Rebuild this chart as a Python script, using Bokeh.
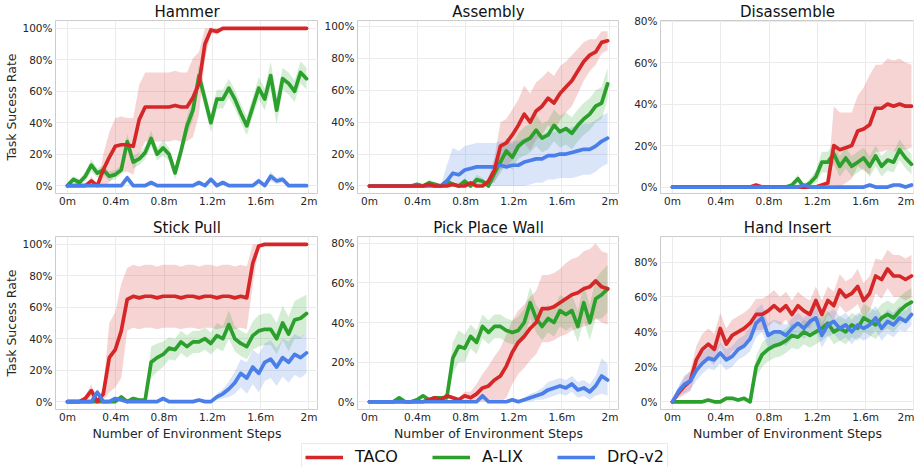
from bokeh.plotting import figure
from bokeh.layouts import column, row
from bokeh.models import FixedTicker, CustomJSTickFormatter, Range1d, Legend, LegendItem
from bokeh.embed import file_html
from bokeh.resources import INLINE

# ---------------- data (environment steps in millions, success rate in %) ----------------
steps_m = [0, 0.0495, 0.099, 0.1485, 0.198, 0.2475, 0.297, 0.3465, 0.396, 0.4455,
           0.495, 0.5445, 0.594, 0.6435, 0.693, 0.7425, 0.792, 0.8415, 0.891, 0.9405,
           0.99, 1.0395, 1.089, 1.1385, 1.188, 1.2375, 1.287, 1.3365, 1.386, 1.4355,
           1.485, 1.5345, 1.584, 1.6335, 1.683, 1.7325, 1.782, 1.8315, 1.881, 1.9305,
           1.98]
x_ticks = [0, 0.4, 0.8, 1.2, 1.6, 2.0]
methods = ["TACO", "A-LIX", "DrQ-v2"]
titles = ["Hammer", "Assembly", "Disassemble", "Stick Pull", "Pick Place Wall", "Hand Insert"]

hammer_taco = [0, 0, 0, 0, 3, 0, 10, 18, 25, 26,
               26, 25, 42, 50, 50, 50, 50, 50, 51, 50,
               50, 56, 65, 90, 99, 98, 100, 100, 100, 100,
               100, 100, 100, 100, 100, 100, 100, 100, 100, 100,
               100]
hammer_taco_sd = [0, 0, 0, 0, 3, 0, 10, 16, 18, 18,
                  17, 18, 22, 22, 22, 22, 22, 22, 22, 22,
                  22, 25, 20, 10, 2, 2, 1, 1, 1, 1,
                  1, 1, 1, 1, 1, 1, 1, 1, 1, 1,
                  1]
hammer_alix = [0, 4, 2, 6, 13, 8, 10, 6, 7, 10,
               28, 15, 17, 21, 30, 20, 24, 20, 8, 22,
               38, 48, 70, 55, 40, 55, 55, 62, 55, 46,
               38, 50, 62, 55, 70, 48, 68, 65, 60, 72,
               68]
hammer_alix_sd = [0, 2, 2, 3, 4, 3, 3, 3, 3, 3,
                  5, 4, 4, 4, 5, 4, 5, 4, 4, 5,
                  6, 6, 7, 6, 6, 6, 6, 6, 6, 6,
                  6, 6, 7, 7, 9, 9, 7, 7, 7, 7,
                  7]
hammer_drq = [0, 0, 0, 0, 0, 0, 0, 0, 0, 0,
              5, 0, 0, 0, 2, 0, 0, 0, 0, 0,
              0, 0, 2, 0, 4, 0, 2, 0, 0, 0,
              0, 0, 3, 0, 6, 3, 4, 0, 0, 0,
              0]
hammer_drq_sd = [0, 0, 0, 0, 0, 0, 0, 0, 0, 0,
                 2, 0, 0, 0, 1, 0, 0, 0, 0, 0,
                 0, 0, 1, 0, 2, 0, 1, 0, 0, 0,
                 0, 0, 2, 0, 3, 2, 2, 0, 0, 0,
                 0]

assembly_taco = [0, 0, 0, 0, 0, 0, 0, 0, 0, 0,
                 1, 0, 0, 0, 1, 0, 0, 2, 0, 0,
                 3, 10, 25, 27, 32, 38, 45, 40, 47, 50,
                 55, 52, 58, 62, 66, 72, 78, 82, 84, 90,
                 91]
assembly_taco_sd = [0, 0, 0, 0, 0, 0, 0, 0, 0, 0,
                    0, 0, 0, 0, 0, 0, 0, 0, 0, 0,
                    2, 8, 15, 15, 16, 16, 18, 18, 18, 18,
                    17, 17, 17, 16, 16, 14, 12, 10, 8, 7,
                    6]
assembly_alix = [0, 0, 0, 0, 0, 0, 0, 0, 1, 0,
                 2, 1, 0, 3, 1, 0, 3, 0, 4, 3,
                 0, 8, 15, 22, 18, 25, 28, 30, 35, 30,
                 32, 38, 34, 36, 33, 38, 42, 45, 50, 52,
                 64]
assembly_alix_sd = [0, 0, 0, 0, 0, 0, 0, 0, 1, 0,
                    2, 1, 0, 2, 1, 0, 2, 0, 3, 2,
                    0, 5, 7, 8, 8, 8, 9, 9, 10, 9,
                    9, 10, 10, 10, 10, 10, 10, 10, 10, 10,
                    10]
assembly_drq = [0, 0, 0, 0, 0, 0, 0, 0, 0, 0,
                0, 0, 0, 3, 8, 7, 10, 11, 12, 12,
                12, 12, 13, 12, 13, 13, 15, 16, 17, 17,
                19, 19, 20, 20, 21, 22, 23, 23, 25, 28,
                30]
assembly_drq_sd = [0, 0, 0, 0, 0, 0, 0, 0, 0, 0,
                   0, 0, 0, 10, 16, 15, 15, 15, 15, 15,
                   15, 15, 15, 15, 15, 15, 15, 15, 15, 15,
                   15, 15, 15, 15, 16, 16, 16, 16, 16, 16,
                   16]

disassemble_taco = [0, 0, 0, 0, 0, 0, 0, 0, 0, 0,
                    0, 0, 0, 0, 1, 0, 0, 0, 0, 0,
                    0, 0, 0, 0, 0, 1, 2, 20, 18, 19,
                    20, 27, 28, 30, 38, 38, 40, 39, 40, 39,
                    39]
disassemble_taco_sd = [0, 0, 0, 0, 0, 0, 0, 0, 0, 0,
                       0, 0, 0, 0, 0, 0, 0, 0, 0, 0,
                       0, 0, 0, 0, 0, 0, 1, 19, 18, 17,
                       16, 17, 20, 24, 21, 21, 22, 22, 22, 21,
                       20]
disassemble_alix = [0, 0, 0, 0, 0, 0, 0, 0, 0, 0,
                    0, 0, 0, 0, 0, 0, 0, 0, 0, 0,
                    1, 4, 0, 2, 5, 12, 12, 16, 10, 14,
                    10, 12, 14, 10, 15, 10, 13, 12, 18, 14,
                    11]
disassemble_alix_sd = [0, 0, 0, 0, 0, 0, 0, 0, 0, 0,
                       0, 0, 0, 0, 0, 0, 0, 0, 0, 0,
                       1, 2, 1, 2, 3, 5, 5, 5, 5, 5,
                       5, 5, 5, 5, 5, 5, 5, 5, 5, 5,
                       5]
disassemble_drq = [0, 0, 0, 0, 0, 0, 0, 0, 0, 0,
                   0, 0, 0, 0, 0, 0, 0, 0, 0, 0,
                   0, 0, 1, 0, 0, 0, 0, 0, 0, 0,
                   0, 0, 0, 1, 0, 0, 0, 1, 1, 0,
                   1]
disassemble_drq_sd = [0, 0, 0, 0, 0, 0, 0, 0, 0, 0,
                      0, 0, 0, 0, 0, 0, 0, 0, 0, 0,
                      0, 0, 0, 0, 0, 0, 0, 0, 0, 0,
                      0, 0, 0, 0, 0, 0, 0, 0, 0, 0,
                      0]

stickpull_taco = [0, 0, 0, 2, 7, 0, 5, 28, 33, 45,
                  65, 67, 66, 67, 67, 66, 67, 67, 67, 66,
                  67, 67, 66, 67, 67, 66, 67, 67, 66, 67,
                  66, 88, 99, 100, 100, 100, 100, 100, 100, 100,
                  100]
stickpull_taco_sd = [0, 0, 0, 2, 4, 0, 4, 22, 24, 30,
                     20, 20, 20, 20, 20, 20, 20, 20, 20, 20,
                     20, 20, 20, 20, 20, 20, 20, 20, 20, 20,
                     20, 14, 1, 0, 0, 0, 0, 0, 0, 0,
                     0]
stickpull_alix = [0, 0, 0, 0, 0, 0, 0, 0, 0, 3,
                  0, 2, 1, 1, 25, 28, 30, 34, 33, 38,
                  35, 38, 38, 40, 37, 42, 40, 49, 40, 37,
                  35, 42, 45, 46, 46, 40, 50, 43, 52, 53,
                  56]
stickpull_alix_sd = [0, 0, 0, 0, 0, 0, 0, 0, 0, 1,
                     0, 1, 1, 1, 10, 9, 8, 7, 7, 7,
                     7, 7, 7, 7, 7, 8, 8, 9, 8, 8,
                     8, 9, 10, 10, 10, 10, 11, 11, 12, 13,
                     12]
stickpull_drq = [0, 0, 0, 0, 0, 6, 0, 0, 2, 1,
                 0, 0, 0, 0, 0, 0, 2, 0, 0, 0,
                 0, 0, 1, 0, 0, 3, 5, 8, 12, 18,
                 15, 22, 18, 25, 27, 22, 28, 25, 30, 28,
                 31]
stickpull_drq_sd = [0, 0, 0, 0, 0, 2, 0, 0, 1, 0,
                    0, 0, 0, 0, 0, 0, 1, 0, 0, 0,
                    0, 0, 1, 0, 0, 2, 3, 5, 7, 9,
                    10, 11, 12, 12, 12, 12, 12, 13, 13, 13,
                    13]

pickplace_taco = [0, 0, 0, 0, 0, 0, 0, 0, 0, 0,
                  1, 2, 1, 3, 2, 1, 3, 2, 4, 7,
                  8, 11, 13, 18, 25, 30, 33, 37, 40, 47,
                  47, 48, 50, 52, 54, 55, 57, 58, 61, 58,
                  57]
pickplace_taco_sd = [0, 0, 0, 0, 0, 0, 0, 0, 0, 0,
                     0, 1, 1, 1, 1, 1, 2, 3, 5, 7,
                     10, 12, 14, 16, 16, 16, 16, 16, 16, 17,
                     17, 17, 17, 18, 18, 18, 19, 19, 19, 18,
                     18]
pickplace_alix = [0, 0, 0, 0, 0, 2, 0, 0, 1, 3,
                  1, 2, 2, 2, 22, 28, 27, 33, 30, 38,
                  35, 38, 38, 36, 35, 36, 40, 50, 42, 38,
                  42, 40, 46, 44, 46, 38, 50, 40, 52, 54,
                  57]
pickplace_alix_sd = [0, 0, 0, 0, 0, 1, 0, 0, 1, 1,
                     1, 1, 1, 1, 8, 8, 7, 6, 6, 6,
                     6, 6, 6, 6, 6, 7, 7, 8, 7, 7,
                     7, 7, 8, 8, 8, 8, 9, 9, 10, 12,
                     12]
pickplace_drq = [0, 0, 0, 0, 0, 0, 0, 0, 0, 0,
                 0, 0, 0, 0, 0, 0, 0, 0, 0, 3,
                 0, 0, 0, 0, 1, 0, 1, 2, 3, 4,
                 6, 7, 8, 7, 9, 6, 7, 5, 8, 13,
                 11]
pickplace_drq_sd = [0, 0, 0, 0, 0, 0, 0, 0, 0, 0,
                    0, 0, 0, 0, 0, 0, 0, 0, 0, 1,
                    0, 0, 0, 0, 1, 0, 1, 2, 2, 3,
                    4, 4, 4, 4, 4, 4, 4, 4, 5, 9,
                    8]

handinsert_taco = [0, 5, 9, 12, 24, 30, 33, 30, 42, 33,
                   38, 40, 42, 45, 50, 50, 52, 55, 52, 55,
                   50, 55, 52, 50, 58, 50, 58, 55, 64, 60,
                   62, 66, 58, 62, 72, 70, 76, 72, 72, 70,
                   72]
handinsert_taco_sd = [0, 3, 5, 6, 8, 9, 9, 9, 9, 9,
                      9, 9, 9, 9, 9, 9, 9, 9, 8, 8,
                      8, 8, 8, 8, 8, 8, 8, 8, 9, 9,
                      9, 10, 10, 10, 10, 11, 11, 12, 12, 12,
                      12]
handinsert_alix = [0, 0, 0, 0, 0, 0, 1, 0, 0, 2,
                   2, 1, 2, 0, 20, 27, 30, 32, 33, 35,
                   38, 37, 40, 38, 40, 42, 45, 40, 42, 40,
                   44, 42, 48, 46, 44, 48, 50, 48, 52, 55,
                   57]
handinsert_alix_sd = [0, 0, 0, 0, 0, 0, 0, 0, 0, 1,
                      1, 1, 1, 0, 6, 7, 7, 7, 7, 7,
                      7, 7, 7, 7, 7, 7, 7, 7, 7, 7,
                      7, 7, 8, 8, 8, 8, 8, 8, 8, 8,
                      8]
handinsert_drq = [0, 6, 10, 12, 18, 22, 25, 24, 28, 24,
                  26, 30, 32, 36, 45, 48, 38, 40, 40, 38,
                  42, 45, 42, 46, 48, 38, 44, 46, 42, 44,
                  40, 44, 42, 44, 48, 42, 46, 44, 48, 46,
                  50]
handinsert_drq_sd = [0, 3, 5, 5, 6, 6, 6, 6, 6, 6,
                     6, 6, 6, 7, 8, 8, 7, 7, 6, 6,
                     6, 6, 6, 6, 7, 7, 7, 7, 7, 7,
                     7, 7, 7, 7, 7, 7, 7, 7, 7, 6,
                     6]

y_ticks_100 = [0, 20, 40, 60, 80, 100]
y_ticks_80 = [0, 20, 40, 60, 80]

# ---------------- styling ----------------
COLORS = {"TACO": "#d62728", "A-LIX": "#2ca02c", "DrQ-v2": "#4a7ee8"}
FONT = "DejaVu Sans"
TXT = "#262626"
GRID = "#ebebeb"
EDGE = "#cccccc"
FRAME_H = 173

panels = [
    dict(title=titles[0], ylim=(-5, 105), yt=y_ticks_100,
         data={"TACO": (hammer_taco, hammer_taco_sd), "A-LIX": (hammer_alix, hammer_alix_sd),
               "DrQ-v2": (hammer_drq, hammer_drq_sd)}, order=["A-LIX", "TACO", "DrQ-v2"]),
    dict(title=titles[1], ylim=(-4.7, 103.7), yt=y_ticks_100,
         data={"TACO": (assembly_taco, assembly_taco_sd), "A-LIX": (assembly_alix, assembly_alix_sd),
               "DrQ-v2": (assembly_drq, assembly_drq_sd)}, order=["A-LIX", "DrQ-v2", "TACO"]),
    dict(title=titles[2], ylim=(-3.1, 80.3), yt=y_ticks_80,
         data={"TACO": (disassemble_taco, disassemble_taco_sd), "A-LIX": (disassemble_alix, disassemble_alix_sd),
               "DrQ-v2": (disassemble_drq, disassemble_drq_sd)}, order=["A-LIX", "TACO", "DrQ-v2"]),
    dict(title=titles[3], ylim=(-5, 105), yt=y_ticks_100,
         data={"TACO": (stickpull_taco, stickpull_taco_sd), "A-LIX": (stickpull_alix, stickpull_alix_sd),
               "DrQ-v2": (stickpull_drq, stickpull_drq_sd)}, order=["A-LIX", "TACO", "DrQ-v2"]),
    dict(title=titles[4], ylim=(-3.9, 83.4), yt=y_ticks_80,
         data={"TACO": (pickplace_taco, pickplace_taco_sd), "A-LIX": (pickplace_alix, pickplace_alix_sd),
               "DrQ-v2": (pickplace_drq, pickplace_drq_sd)}, order=["A-LIX", "TACO", "DrQ-v2"]),
    dict(title=titles[5], ylim=(-4.4, 94.6), yt=y_ticks_80,
         data={"TACO": (handinsert_taco, handinsert_taco_sd), "A-LIX": (handinsert_alix, handinsert_alix_sd),
               "DrQ-v2": (handinsert_drq, handinsert_drq_sd)}, order=["A-LIX", "TACO", "DrQ-v2"]),
]

col_frame_w = [263, 262, 254]
col_border_l = [55, 39, 41]
col_x_range = [(-0.099, 2.079), (-0.099, 2.079), (-0.099, 2.005)]
row_border_t = [18, 21]
row_border_b = [22, 30]


def make_panel(k, spec):
    r, c = divmod(k, 3)
    p = figure(frame_width=col_frame_w[c], frame_height=FRAME_H,
               x_range=Range1d(*col_x_range[c]), y_range=Range1d(*spec["ylim"]),
               output_backend="svg", toolbar_location=None,
               min_border_left=col_border_l[c], min_border_right=0,
               min_border_top=row_border_t[r], min_border_bottom=row_border_b[r])
    p.title.text = spec["title"]
    p.title.align = "center"
    p.title.text_font = FONT
    p.title.text_font_size = "15px"
    p.title.text_font_style = "normal"
    p.title.text_color = "#111111"
    p.title.standoff = 0
    p.outline_line_color = EDGE
    p.outline_line_width = 1
    p.background_fill_color = "white"

    p.xaxis.ticker = FixedTicker(ticks=x_ticks)
    p.xaxis.formatter = CustomJSTickFormatter(code="return (Math.round(tick*10)/10) + 'm';")
    p.yaxis.ticker = FixedTicker(ticks=spec["yt"])
    p.yaxis.formatter = CustomJSTickFormatter(code="return Math.round(tick) + '%';")
    for ax in (p.xaxis, p.yaxis):
        ax.axis_line_color = None
        ax.major_tick_out = 0
        ax.major_tick_in = 0
        ax.minor_tick_out = 0
        ax.minor_tick_in = 0
        ax.major_label_text_font = FONT
        ax.major_label_text_font_size = "10.5px"
        ax.major_label_text_color = TXT
        ax.axis_label_text_font = FONT
        ax.axis_label_text_font_size = "12.5px"
        ax.axis_label_text_font_style = "normal"
        ax.axis_label_text_color = TXT
    p.xaxis.major_label_standoff = 1
    p.yaxis.major_label_standoff = 3
    p.xgrid.grid_line_color = GRID
    p.ygrid.grid_line_color = GRID
    if c == 0:
        p.yaxis.axis_label = "Task Sucess Rate"
        p.yaxis.axis_label_standoff = 0
    if r == 1:
        p.xaxis.axis_label = "Number of Environment Steps"
        p.xaxis.axis_label_standoff = 0

    for m in methods:
        mean, sd = spec["data"][m]
        lo = [max(a - s, 0) for a, s in zip(mean, sd)]
        hi = [min(a + s, 100) for a, s in zip(mean, sd)]
        p.varea(x=steps_m, y1=lo, y2=hi, fill_color=COLORS[m], fill_alpha=0.2)
    for m in spec["order"]:
        mean, _ = spec["data"][m]
        p.line(x=steps_m, y=mean, line_color=COLORS[m], line_width=3.7,
               line_join="round", line_cap="round")
    return p


figs = [make_panel(k, s) for k, s in enumerate(panels)]

# ---------------- legend strip ----------------
# the strip re-uses the Hammer series only to carry legend glyphs; its y range
# lies above the data so nothing but the legend is visible.
leg = figure(width=914, height=24, output_backend="svg", toolbar_location=None,
             x_range=Range1d(0, 2), y_range=Range1d(200, 201),
             x_axis_location=None, y_axis_location=None, min_border=0)
leg.outline_line_color = None
leg.xgrid.visible = False
leg.ygrid.visible = False
legend_series = {"TACO": hammer_taco, "A-LIX": hammer_alix, "DrQ-v2": hammer_drq}
items = []
for m in methods:
    rr = leg.line(x=steps_m, y=legend_series[m], line_color=COLORS[m], line_width=3.7)
    items.append(LegendItem(label=m, renderers=[rr]))
legend = Legend(items=items, orientation="horizontal", location=(301, -3),
                label_text_font=FONT, label_text_font_size="16px", label_text_color="#111111",
                glyph_width=38, glyph_height=16, label_standoff=12, spacing=34,
                padding=3, margin=0, border_line_color="#d6d6d6", border_line_width=1,
                background_fill_color="white", background_fill_alpha=1.0)
leg.add_layout(legend)

layout = column(row(*figs[:3]), row(*figs[3:]), leg)

open("out.html", "w").write(file_html(layout, INLINE))
